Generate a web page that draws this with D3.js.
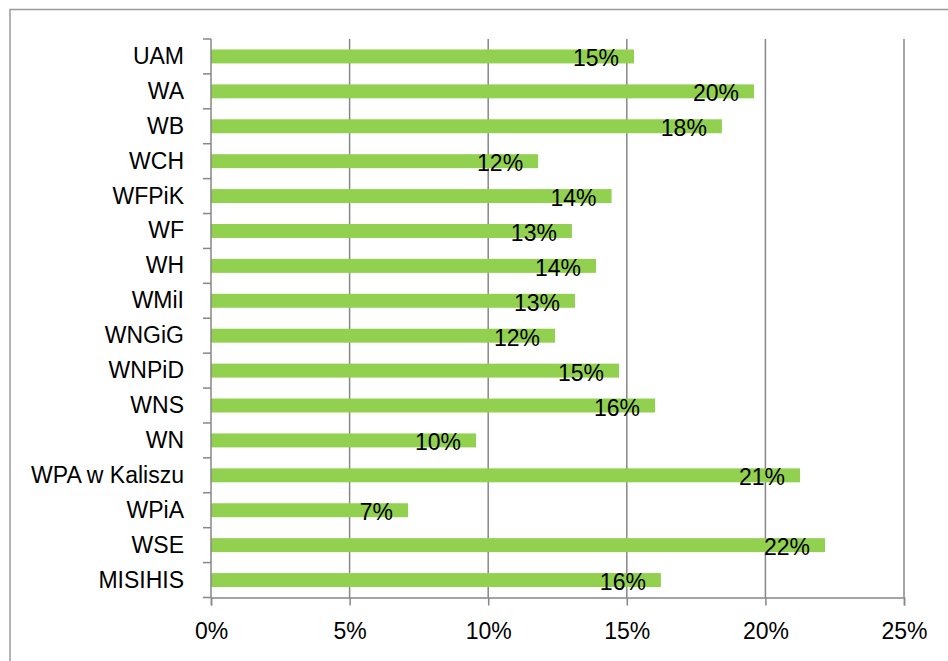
<!DOCTYPE html>
<html><head><meta charset="utf-8">
<script src="https://cdn.jsdelivr.net/npm/d3@7"></script>
<style>body{margin:0;background:#fff}svg{display:block}</style>
</head><body>
<svg id="c" width="948" height="661"></svg>
<script>
const categories = ["UAM","WA","WB","WCH","WFPiK","WF","WH","WMiI","WNGiG","WNPiD","WNS","WN","WPA w Kaliszu","WPiA","WSE","MISIHIS"];
const values = [0.1526,0.1959,0.1843,0.1180,0.1445,0.1302,0.1389,0.1313,0.1241,0.1472,0.1602,0.0956,0.2125,0.0711,0.2215,0.1623];
const xTicks = [0,0.05,0.10,0.15,0.20,0.25];

const svg = d3.select("#c");
const font = "'Liberation Sans', Arial, sans-serif";
const axisColor = "#878787";
const L = 211, R = 904, T = 39, B = 597.5;

svg.append("rect").attr("x",10).attr("y",9.5).attr("width",960).attr("height",700)
  .attr("fill","none").attr("stroke","#9a9a9a").attr("stroke-width",1.5);

const x = d3.scaleLinear().domain([0,0.25]).range([L,R]);
const y = d3.scaleBand().domain(categories).range([T,B]).paddingInner(0.6).paddingOuter(0.3);

// gridlines
svg.append("g").selectAll("line").data(xTicks.slice(1)).join("line")
  .attr("x1",d=>x(d)).attr("x2",d=>x(d)).attr("y1",T).attr("y2",B)
  .attr("stroke",axisColor).attr("stroke-width",1.5);

// bars
svg.append("g").selectAll("rect").data(values).join("rect")
  .attr("x",x(0)).attr("y",(d,i)=>y(categories[i]))
  .attr("width",d=>x(d)-x(0)).attr("height",y.bandwidth())
  .attr("fill","#92d050");

// bar labels
const fmt = d3.format(".0%");
svg.append("g").selectAll("text").data(values).join("text")
  .attr("x",d=>x(d)-15).attr("y",(d,i)=>y(categories[i])+y.bandwidth()/2+10)
  .attr("text-anchor","end").attr("font-family",font).attr("font-size",23).attr("fill","#000")
  .text(d=>fmt(d));

// bottom axis
const xa = svg.append("g").attr("transform",`translate(0,${B})`)
  .call(d3.axisBottom(x).tickValues(xTicks).tickFormat(d3.format(".0%")).tickSize(8).tickPadding(17));
xa.select(".domain").attr("stroke",axisColor).attr("stroke-width",1.5);
xa.selectAll(".tick line").attr("stroke",axisColor).attr("stroke-width",1.5);
xa.selectAll("text").attr("font-family",font).attr("font-size",23).attr("fill","#000");

// left axis
const step = y.step();
const bounds = d3.range(categories.length+1).map(i => T + i*step);
svg.append("line").attr("x1",L).attr("x2",L).attr("y1",T).attr("y2",B)
  .attr("stroke",axisColor).attr("stroke-width",1.5);
svg.append("g").selectAll("line").data(bounds).join("line")
  .attr("x1",L-8).attr("x2",L).attr("y1",d=>d).attr("y2",d=>d)
  .attr("stroke",axisColor).attr("stroke-width",1.5);
svg.append("g").selectAll("text").data(categories).join("text")
  .attr("x",184).attr("y",d=>y(d)+y.bandwidth()/2+7.5)
  .attr("text-anchor","end").attr("font-family",font).attr("font-size",23).attr("fill","#000")
  .text(d=>d);
</script>
</body></html>
